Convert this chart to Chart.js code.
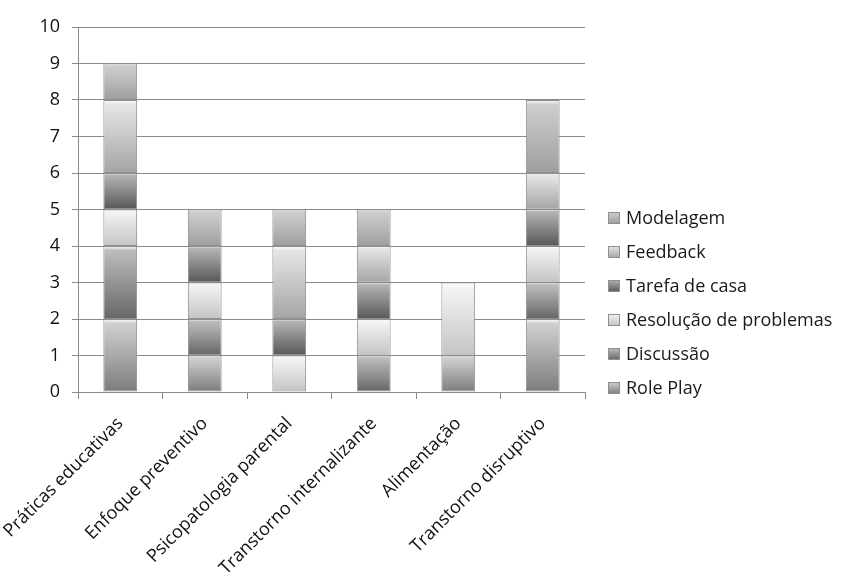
<!DOCTYPE html>
<html>
<head>
<meta charset="utf-8">
<script src="https://cdn.jsdelivr.net/npm/chart.js@4/dist/chart.umd.min.js"></script>
<style>
  body { margin: 0; background: #fff; }
  #wrap { width: 850px; height: 586px; }
</style>
</head>
<body>
<div id="wrap"><canvas id="techChart"></canvas></div>
<script>
// categories (x axis)
const categories = [
    'Práticas educativas', 'Enfoque preventivo', 'Psicopatologia parental',
    'Transtorno internalizante', 'Alimentação', 'Transtorno disruptivo'
];
// one array per technique, stacked bottom to top
const rolePlay   = [2, 1, 0, 0, 1, 2];
const discussao  = [2, 1, 0, 1, 0, 1];
const resolucao  = [1, 1, 1, 1, 2, 1];
const tarefa     = [1, 1, 1, 1, 0, 1];
const feedback   = [2, 0, 2, 1, 0, 1];
const modelagem  = [1, 1, 1, 1, 0, 2];
const yTicks = [0, 1, 2, 3, 4, 5, 6, 7, 8, 9, 10];

const seriesNames = ['Role Play', 'Discussão', 'Resolução de problemas', 'Tarefa de casa', 'Feedback', 'Modelagem'];
const seriesData = [rolePlay, discussao, resolucao, tarefa, feedback, modelagem];
// [top, bottom] gray of each segment gradient
const shades = [
    ['#d0d0d0', '#7c7c7c'],
    ['#bdbdbd', '#666666'],
    ['#f4f4f4', '#c4c4c4'],
    ['#b4b4b4', '#575757'],
    ['#e6e6e6', '#a4a4a4'],
    ['#cfcfcf', '#9e9e9e']
];
const FONT = 'Open Sans';

// gradient per segment, from its top to its bottom
function segmentFill(context) {
    const chart = context.chart;
    const y = chart.scales.y;
    if (!y || context.dataIndex === undefined) return shades[context.datasetIndex][1];
    const ds = context.datasetIndex, i = context.dataIndex;
    let base = 0;
    for (let k = 0; k < ds; k++) base += seriesData[k][i];
    const top = base + seriesData[ds][i];
    const yTop = y.getPixelForValue(top);
    const yBot = y.getPixelForValue(base);
    if (!isFinite(yTop) || !isFinite(yBot) || yTop === yBot) return shades[ds][1];
    const g = chart.ctx.createLinearGradient(0, yTop, 0, yBot);
    g.addColorStop(0, '#ffffff');
    g.addColorStop(0.06, shades[ds][0]);
    g.addColorStop(1, shades[ds][1]);
    return g;
}

// legend drawn at the right, reversed, bottom item level with the x axis
const sideLegend = {
    id: 'sideLegend',
    afterDraw(chart) {
        const c = chart.ctx;
        const area = chart.chartArea;
        const x0 = area.right + 23;
        c.save();
        c.font = '18px "' + FONT + '"';
        c.textBaseline = 'middle';
        seriesNames.forEach((name, k) => {
            const yc = area.bottom - 4 - k * 34;
            const g = c.createLinearGradient(0, yc - 6, 0, yc + 6);
            g.addColorStop(0, shades[k][0]);
            g.addColorStop(1, shades[k][1]);
            c.fillStyle = g;
            c.fillRect(x0, yc - 6, 12, 12);
            c.strokeStyle = '#8f8f8f';
            c.lineWidth = 1;
            c.strokeRect(x0 + 0.5, yc - 5.5, 11, 11);
            c.fillStyle = '#1a1a1a';
            c.fillText(name, x0 + 18, yc + 1);
        });
        c.restore();
    }
};

const datasets = seriesNames.map((name, k) => ({
    label: name,
    data: seriesData[k],
    backgroundColor: segmentFill,
    borderColor: '#8f8f8f',
    borderWidth: 1,
    borderSkipped: false,
    categoryPercentage: 1,
    barPercentage: 0.4
}));

const ctx = document.getElementById('techChart').getContext('2d');
new Chart(ctx, {
    type: 'bar',
    data: { labels: categories, datasets: datasets },
    plugins: [sideLegend],
    options: {
        responsive: true,
        maintainAspectRatio: false,
        animation: false,
        layout: { padding: { left: 38, top: 27, right: 265, bottom: 4 } },
        plugins: {
            tooltip: { enabled: false },
            legend: { display: false }
        },
        scales: {
            x: {
                stacked: true,
                grid: { display: true, offset: true, drawOnChartArea: false, color: '#8a8a8a', tickLength: 7 },
                border: { color: '#8a8a8a' },
                ticks: {
                    minRotation: 45,
                    maxRotation: 45,
                    color: '#111',
                    padding: 14,
                    font: { family: FONT, size: 18 }
                },
                afterFit: function (scale) {
                    // fixed room for the slanted labels, no extra side padding
                    scale.height = 190;
                    scale.paddingLeft = 0;
                    scale.paddingRight = 0;
                }
            },
            y: {
                stacked: true,
                min: 0,
                max: 10,
                afterBuildTicks: function (axis) {
                    axis.ticks = yTicks.map(v => ({ value: v }));
                },
                afterFit: function (scale) {
                    scale.width = 40;
                },
                grid: { color: '#8a8a8a', tickLength: 6 },
                border: { color: '#8a8a8a' },
                ticks: {
                    color: '#111',
                    padding: 12,
                    font: { family: FONT, size: 18 }
                }
            }
        }
    }
});
</script>
</body>
</html>
